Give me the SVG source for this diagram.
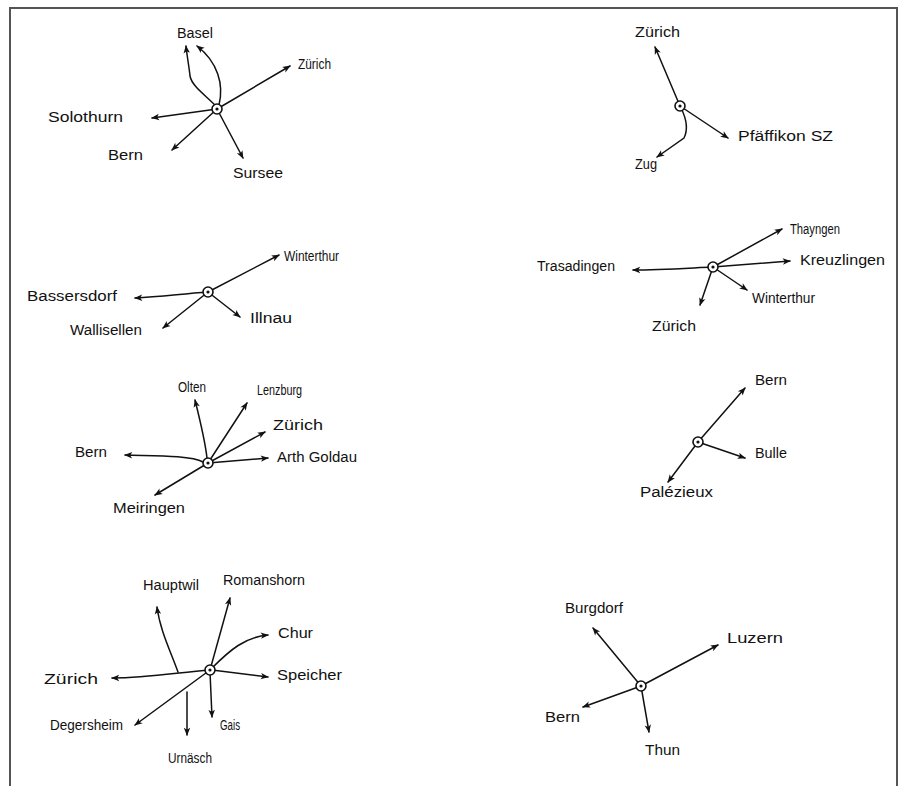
<svg xmlns="http://www.w3.org/2000/svg" width="904" height="786" viewBox="0 0 904 786">
<style>
.c{fill:none;stroke:#111;stroke-width:1.5;stroke-linecap:round;marker-end:url(#ah)}
.h{fill:#fff;stroke:#111;stroke-width:1.6}
.d{fill:#111}
text{font-family:"Liberation Sans",Arial,sans-serif;font-size:14px;fill:#111}
.frame{fill:none;stroke:#555;stroke-width:2}
</style>
<defs>
<marker id="ah" viewBox="0 0 10 10" refX="9" refY="5" markerWidth="9" markerHeight="8" markerUnits="userSpaceOnUse" orient="auto">
<path d="M0,1 L10,5 L0,9 L2.5,5 z" fill="#111"/>
</marker>
<g id="hub"><circle class="h" r="5"/><circle class="d" r="1.6"/></g>
</defs>
<rect width="904" height="786" fill="#fff"/>
<path class="frame" d="M10,786 V8 H897 V786"/>

<g id="connectors">
<!-- diagram 1 -->
<path class="c" d="M216,106 C204,94 192,86 190,76 C189,66 187,56 186,46"/>
<path class="c" d="M219,105 C224,85 218,62 197,46"/>
<path class="c" d="M217,109 L290,66"/>
<path class="c" d="M217,109 L152,118"/>
<path class="c" d="M217,109 L172,150"/>
<path class="c" d="M217,109 L243,158"/>
<!-- diagram 2 -->
<path class="c" d="M680,106 L655,47"/>
<path class="c" d="M680,106 L728,138"/>
<path class="c" d="M681,108 C687,120 688,130 684,138 L657,157"/>
<!-- diagram 3 -->
<path class="c" d="M208,292 L279,255"/>
<path class="c" d="M208,292 C180,294 160,297 135,298"/>
<path class="c" d="M208,292 L240,317"/>
<path class="c" d="M208,292 L163,328"/>
<!-- diagram 4 -->
<path class="c" d="M713,267 L782,229"/>
<path class="c" d="M713,267 L790,261"/>
<path class="c" d="M713,267 C690,268 660,270 633,270"/>
<path class="c" d="M713,267 L700,305"/>
<path class="c" d="M713,267 L747,290"/>
<!-- diagram 5 -->
<path class="c" d="M207,458 C205,440 200,420 195,400"/>
<path class="c" d="M208,463 L247,403"/>
<path class="c" d="M208,463 L265,432"/>
<path class="c" d="M208,463 L268,458"/>
<path class="c" d="M203,462 C190,455 150,456 125,455"/>
<path class="c" d="M208,463 L155,495"/>
<!-- diagram 6 -->
<path class="c" d="M698,442 L745,388"/>
<path class="c" d="M698,442 L745,458"/>
<path class="c" d="M698,442 L668,482"/>
<!-- diagram 7 -->
<path class="c" d="M210,670 C180,672 150,678 112,678"/>
<path class="c" d="M178,672 C170,650 160,630 157,607"/>
<path class="c" d="M210,670 L230,598"/>
<path class="c" d="M212,668 C230,650 245,637 268,635"/>
<path class="c" d="M212,670 L268,677"/>
<path class="c" d="M210,670 L135,725"/>
<path class="c" d="M187,692 L187,735"/>
<path class="c" d="M210,672 L212,717"/>
<!-- diagram 8 -->
<path class="c" d="M641,686 L593,628"/>
<path class="c" d="M641,686 L718,645"/>
<path class="c" d="M641,686 L583,707"/>
<path class="c" d="M641,686 L649,732"/>
</g>

<g id="hub1"><use href="#hub" x="217" y="109"/></g>
<g id="hub2"><use href="#hub" x="680" y="106"/></g>
<g id="hub3"><use href="#hub" x="208" y="292"/></g>
<g id="hub4"><use href="#hub" x="713" y="267"/></g>
<g id="hub5"><use href="#hub" x="208" y="463"/></g>
<g id="hub6"><use href="#hub" x="698" y="442"/></g>
<g id="hub7"><use href="#hub" x="210" y="670"/></g>
<g id="hub8"><use href="#hub" x="641" y="686"/></g>

<g id="d1-basel"><text x="177" y="38" textLength="36" lengthAdjust="spacingAndGlyphs">Basel</text></g>
<g id="d1-zurich"><text x="298" y="69" textLength="33" lengthAdjust="spacingAndGlyphs">Zürich</text></g>
<g id="d1-solothurn"><text x="48" y="122" textLength="75" lengthAdjust="spacingAndGlyphs">Solothurn</text></g>
<g id="d1-bern"><text x="108" y="160" textLength="35" lengthAdjust="spacingAndGlyphs">Bern</text></g>
<g id="d1-sursee"><text x="233" y="178" textLength="50" lengthAdjust="spacingAndGlyphs">Sursee</text></g>

<g id="d2-zurich"><text x="635" y="37" textLength="45" lengthAdjust="spacingAndGlyphs">Zürich</text></g>
<g id="d2-pfaeffikon"><text x="738" y="141" textLength="95" lengthAdjust="spacingAndGlyphs">Pfäffikon SZ</text></g>
<g id="d2-zug"><text x="635" y="169" textLength="22" lengthAdjust="spacingAndGlyphs">Zug</text></g>

<g id="d3-winterthur"><text x="284" y="261" textLength="55" lengthAdjust="spacingAndGlyphs">Winterthur</text></g>
<g id="d3-bassersdorf"><text x="27" y="301" textLength="90" lengthAdjust="spacingAndGlyphs">Bassersdorf</text></g>
<g id="d3-illnau"><text x="250" y="323" textLength="42" lengthAdjust="spacingAndGlyphs">Illnau</text></g>
<g id="d3-wallisellen"><text x="70" y="335" textLength="72" lengthAdjust="spacingAndGlyphs">Wallisellen</text></g>

<g id="d4-thayngen"><text x="790" y="234" textLength="50" lengthAdjust="spacingAndGlyphs">Thayngen</text></g>
<g id="d4-kreuzlingen"><text x="800" y="265" textLength="85" lengthAdjust="spacingAndGlyphs">Kreuzlingen</text></g>
<g id="d4-trasadingen"><text x="537" y="271" textLength="78" lengthAdjust="spacingAndGlyphs">Trasadingen</text></g>
<g id="d4-zurich"><text x="652" y="331" textLength="44" lengthAdjust="spacingAndGlyphs">Zürich</text></g>
<g id="d4-winterthur"><text x="752" y="303" textLength="63" lengthAdjust="spacingAndGlyphs">Winterthur</text></g>

<g id="d5-olten"><text x="178" y="392" textLength="28" lengthAdjust="spacingAndGlyphs">Olten</text></g>
<g id="d5-lenzburg"><text x="257" y="395" textLength="45" lengthAdjust="spacingAndGlyphs">Lenzburg</text></g>
<g id="d5-zurich"><text x="273" y="430" textLength="50" lengthAdjust="spacingAndGlyphs">Zürich</text></g>
<g id="d5-arthgoldau"><text x="277" y="462" textLength="80" lengthAdjust="spacingAndGlyphs">Arth Goldau</text></g>
<g id="d5-bern"><text x="75" y="457" textLength="32" lengthAdjust="spacingAndGlyphs">Bern</text></g>
<g id="d5-meiringen"><text x="113" y="513" textLength="72" lengthAdjust="spacingAndGlyphs">Meiringen</text></g>

<g id="d6-bern"><text x="755" y="385" textLength="32" lengthAdjust="spacingAndGlyphs">Bern</text></g>
<g id="d6-bulle"><text x="755" y="458" textLength="32" lengthAdjust="spacingAndGlyphs">Bulle</text></g>
<g id="d6-palezieux"><text x="640" y="497" textLength="73" lengthAdjust="spacingAndGlyphs">Palézieux</text></g>

<g id="d7-zurich"><text x="44" y="684" textLength="54" lengthAdjust="spacingAndGlyphs">Zürich</text></g>
<g id="d7-hauptwil"><text x="143" y="590" textLength="56" lengthAdjust="spacingAndGlyphs">Hauptwil</text></g>
<g id="d7-romanshorn"><text x="223" y="585" textLength="82" lengthAdjust="spacingAndGlyphs">Romanshorn</text></g>
<g id="d7-chur"><text x="278" y="638" textLength="35" lengthAdjust="spacingAndGlyphs">Chur</text></g>
<g id="d7-speicher"><text x="277" y="680" textLength="65" lengthAdjust="spacingAndGlyphs">Speicher</text></g>
<g id="d7-degersheim"><text x="50" y="730" textLength="73" lengthAdjust="spacingAndGlyphs">Degersheim</text></g>
<g id="d7-urnaesch"><text x="168" y="763" textLength="44" lengthAdjust="spacingAndGlyphs">Urnäsch</text></g>
<g id="d7-gais"><text x="220" y="730" textLength="20" lengthAdjust="spacingAndGlyphs">Gais</text></g>

<g id="d8-burgdorf"><text x="565" y="613" textLength="58" lengthAdjust="spacingAndGlyphs">Burgdorf</text></g>
<g id="d8-luzern"><text x="727" y="643" textLength="56" lengthAdjust="spacingAndGlyphs">Luzern</text></g>
<g id="d8-bern"><text x="545" y="722" textLength="35" lengthAdjust="spacingAndGlyphs">Bern</text></g>
<g id="d8-thun"><text x="645" y="755" textLength="35" lengthAdjust="spacingAndGlyphs">Thun</text></g>
</svg>
